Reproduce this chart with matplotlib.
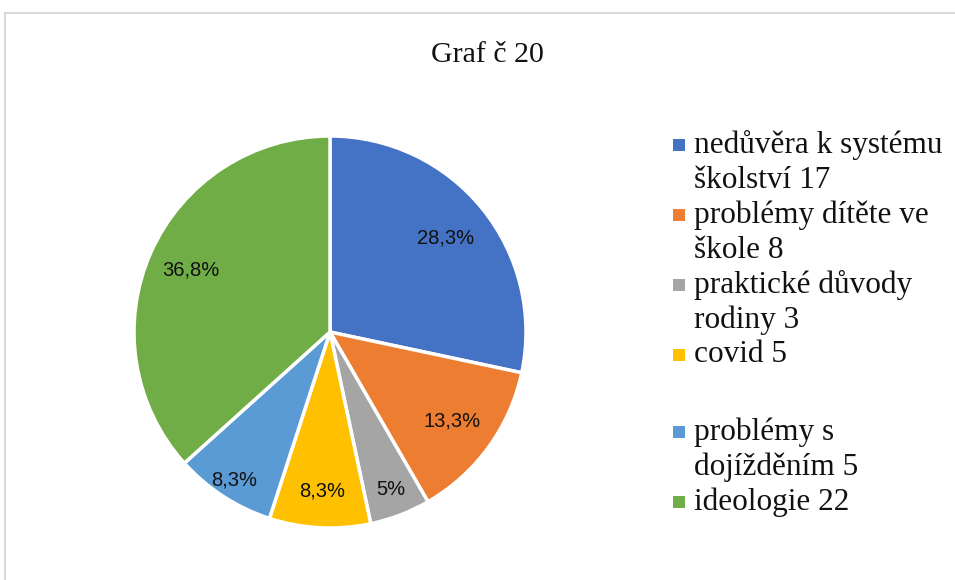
import matplotlib
matplotlib.use('Agg')
from matplotlib import pyplot as plt
from matplotlib.patches import Rectangle
import numpy as np

# data
categories = ['nedůvěra k systému\nškolství 17',
              'problémy dítěte ve\nškole 8',
              'praktické důvody\nrodiny 3',
              'covid 5',
              'problémy s\ndojížděním 5',
              'ideologie 22']
values = [17, 8, 3, 5, 5, 22]
pct_labels = ['28,3%', '13,3%', '5%', '8,3%', '8,3%', '36,8%']
colors = ['#4472C4', '#ED7D31', '#A5A5A5', '#FFC000', '#5B9BD5', '#70AD47']

W, H = 955, 580
fig = plt.figure(figsize=(W / 100, H / 100), dpi=100)

# light grey frame around the chart area
fig.add_artist(Rectangle((4.5 / W, -0.05), 1.2, (H - 12.5) / H + 0.05,
                         transform=fig.transFigure, fill=False,
                         edgecolor='#d9d9d9', linewidth=1.5))

cx, cy, r = 330, 332, 196
ax = fig.add_axes([(cx - r) / W, (H - cy - r) / H, 2 * r / W, 2 * r / H])
wedges, _ = ax.pie(values, colors=colors, startangle=90, counterclock=False,
                   wedgeprops=dict(edgecolor='white', linewidth=2.5))
ax.set_xlim(-1, 1)
ax.set_ylim(-1, 1)
for w in wedges:
    w.set_clip_on(False)

# percentage labels (Excel "best fit" sits them at varying radii)
dists = [0.76, 0.77, 0.86, 0.81, 0.90, 0.78]
for w, lab, d in zip(wedges, pct_labels, dists):
    ang = np.deg2rad((w.theta1 + w.theta2) / 2)
    ax.text(d * np.cos(ang), d * np.sin(ang), lab, ha='center', va='center',
            fontsize=14.5, family='Liberation Sans', color='#111111')

fig.text(487 / W, 1 - 55 / H, 'Graf č 20', ha='center', va='center',
         fontsize=21.5, family='Liberation Serif', color='#111111')

# legend, drawn by hand so the marker sits on the first line
line_h = 35
y = 145
for i, (lab, col) in enumerate(zip(categories, colors)):
    fig.add_artist(Rectangle((673 / W, 1 - (y + 6) / H), 12 / W, 12 / H,
                             transform=fig.transFigure, facecolor=col,
                             edgecolor='none'))
    for line in lab.split('\n'):
        fig.text(694 / W, 1 - y / H, line, ha='left', va='center',
                 fontsize=22.5, family='Liberation Serif', color='#111111')
        y += line_h
    if i == 3:
        y += 42

fig.savefig('out.png', dpi=100)
